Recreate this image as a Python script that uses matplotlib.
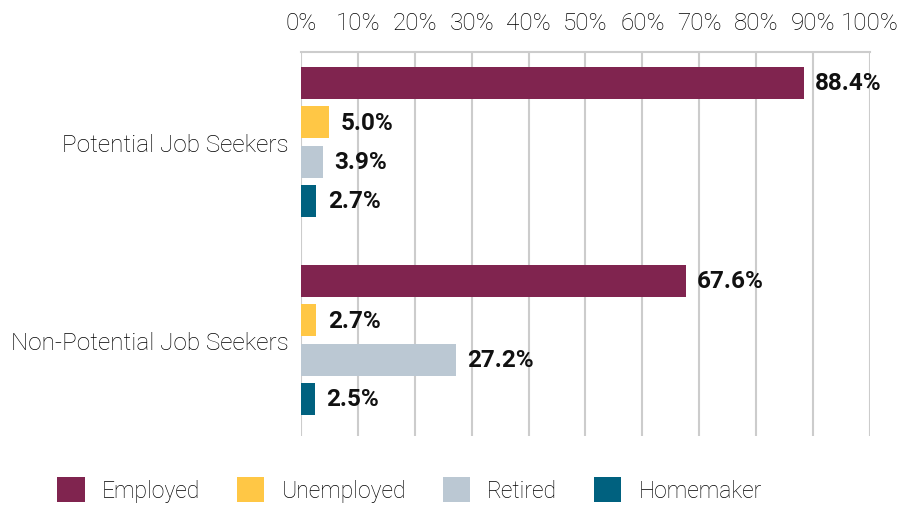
import matplotlib.pyplot as plt
from matplotlib.patches import Patch
from matplotlib import font_manager

groups = ['Potential Job Seekers', 'Non-Potential Job Seekers']
series = ['Employed', 'Unemployed', 'Retired', 'Homemaker']
employed = [88.4, 67.6]
unemployed = [5.0, 2.7]
retired = [3.9, 27.2]
homemaker = [2.7, 2.5]
colors = ['#80244F', '#FFC745', '#BBC8D3', '#00617F']
ticks = [0, 10, 20, 30, 40, 50, 60, 70, 80, 90, 100]

names = {f.name for f in font_manager.fontManager.ttflist}
fam = 'Roboto' if 'Roboto' in names else 'DejaVu Sans'
plt.rcParams['font.family'] = [fam, 'DejaVu Sans']

fig = plt.figure(figsize=(9, 5.06), dpi=100)
ax = fig.add_axes([0.3344, 0.1364, 0.6322, 0.7589])

values = [employed, unemployed, retired, homemaker]
offs = [-0.298, -0.099, 0.099, 0.298]
for k in range(4):
    for g in range(2):
        y = g + offs[k]
        v = values[k][g]
        ax.barh(y, v, height=0.162, color=colors[k], zorder=3)
        ax.text(v + 2.0, y, f'{v:.1f}%', va='center', ha='left',
                fontsize=17.5, fontweight='bold', color='#111111', zorder=4)

ax.set_xlim(0, 100)
ax.set_ylim(1.485, -0.4545)
ax.set_xticks(ticks)
ax.set_xticklabels([f'{t}%' for t in ticks], fontsize=17.5, fontweight='light', color='#000000')
ax.xaxis.tick_top()
ax.tick_params(axis='x', length=0, pad=13)
ax.set_yticks([0, 1])
ax.set_yticklabels(groups, fontsize=17.5, fontweight='light', color='#000000')
ax.tick_params(axis='y', length=0, pad=9)
ax.grid(axis='x', color='#CCCCCC', linewidth=1.5, zorder=0)
for s in ['left', 'right', 'bottom']:
    ax.spines[s].set_visible(False)
ax.spines['top'].set_color('#CCCCCC')
ax.spines['top'].set_linewidth(1.5)

handles = [Patch(facecolor=c, label=s) for c, s in zip(colors, series)]
leg = fig.legend(handles=handles, loc='center', bbox_to_anchor=(0.455, 0.03), ncol=4,
                 frameon=False, handlelength=1.2, handleheight=1.3, handletextpad=0.75,
                 columnspacing=1.6, prop={'size': 16.5, 'weight': 'light'})
for t in leg.get_texts():
    t.set_color('#000000')

fig.savefig('out.png', dpi=100)
